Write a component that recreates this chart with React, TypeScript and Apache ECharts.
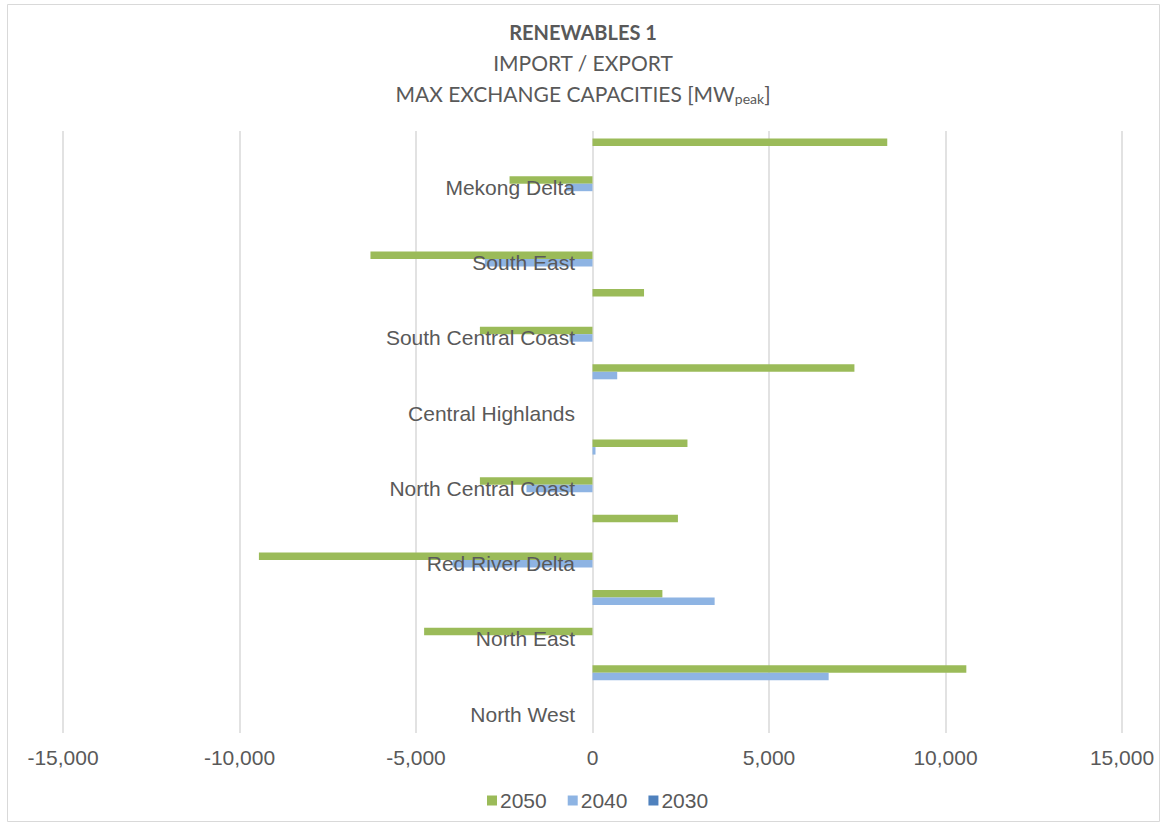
import React, { useEffect, useRef } from "react";
import * as echarts from "echarts";

const categories = [
  "North West", "", "North East", "", "Red River Delta", "", "North Central Coast", "",
  "Central Highlands", "", "South Central Coast", "", "South East", "", "Mekong Delta", "",
];
const seriesNames = ["2050", "2040", "2030"];
const values2050 = [0, 10590, -4770, 1980, -9450, 2420, -3190, 2690, 0, 7420, -3190, 1460, -6290, 0, -2350, 8350];
const values2040 = [0, 6690, 0, 3460, -3960, 0, -1870, 85, 0, 700, -650, 0, -3050, 0, -750, 0];
const values2030 = [0, 0, 0, 0, 0, 0, 0, 0, 0, 0, 0, 0, 0, 0, 0, 0];
const colors = ["#9BBB59", "#8EB4E3", "#4F81BD"];

export default function App() {
  const ref = useRef<HTMLDivElement>(null);
  useEffect(() => {
    if (!ref.current) return;
    const chart = echarts.init(ref.current, undefined, { renderer: "svg" });
    const text = "#595959";
    const dataSets = [values2050, values2040, values2030];
    chart.setOption({
      animation: false,
      backgroundColor: "#ffffff",
      title: {
        left: "center",
        top: 11,
        text: "{b|RENEWABLES 1}\n{n|IMPORT / EXPORT}\n{n|MAX EXCHANGE CAPACITIES [MW}{s|peak}{n|]}",
        textStyle: {
          fontWeight: "normal",
          rich: {
            b: { fontFamily: "Lato", fontSize: 20, fontWeight: "bold", color: text, lineHeight: 31 },
            n: { fontFamily: "Lato", fontSize: 21, fontWeight: "normal", color: text, lineHeight: 31 },
            s: { fontFamily: "Lato", fontSize: 14, fontWeight: "normal", color: text, lineHeight: 31, padding: [10, 0, 0, 0] },
          },
        },
      },
      graphic: [
        {
          type: "rect",
          shape: { x: 7.5, y: 4.5, width: 1152, height: 817 },
          style: { fill: "none", stroke: "#D9D9D9", lineWidth: 1 },
          silent: true,
        },
      ],
      legend: {
        bottom: 10,
        left: 482,
        data: seriesNames,
        icon: "rect",
        itemWidth: 10,
        itemHeight: 10,
        itemGap: 21,
        textStyle: { fontFamily: "Liberation Sans", fontSize: 21, color: text, padding: [0, 0, 0, -2] },
      },
      grid: { left: 63, right: 44, top: 131, bottom: 93, containLabel: false, outerBoundsMode: "none" },
      xAxis: {
        type: "value",
        min: -15000,
        max: 15000,
        interval: 5000,
        axisLine: { show: false },
        axisTick: { show: false },
        splitLine: { lineStyle: { color: "#D9D9D9", width: 1.5 } },
        axisLabel: {
          fontFamily: "Liberation Sans",
          fontSize: 21,
          color: text,
          margin: 14,
          formatter: (v: number) => v.toLocaleString("en-US"),
        },
      },
      yAxis: {
        type: "category",
        data: categories,
        z: 10,
        axisLine: { show: false, onZero: false },
        axisTick: { show: false },
        axisLabel: {
          interval: 0,
          fontFamily: "Liberation Sans",
          fontSize: 21,
          color: text,
          margin: -512,
        },
      },
      series: seriesNames.map((name, i) => ({
        name,
        type: "bar",
        data: dataSets[i],
        barWidth: 7.5,
        barGap: "0%",
        itemStyle: { color: colors[i] },
      })),
    });
    return () => chart.dispose();
  }, []);
  return (
    <div
      ref={ref}
      style={{ position: "absolute", left: 0, top: 0, width: 1166, height: 826 }}
    />
  );
}
